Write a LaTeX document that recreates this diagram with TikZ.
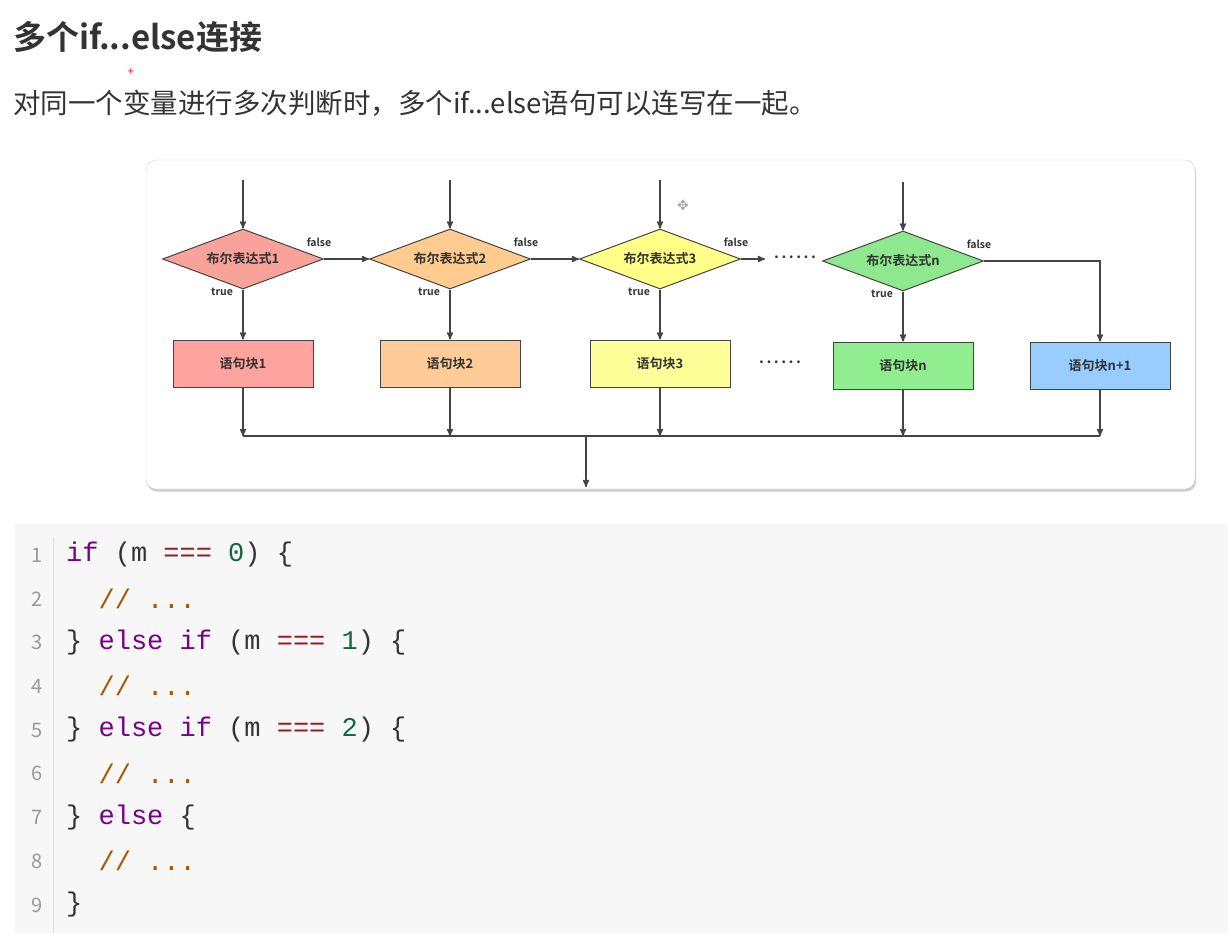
\documentclass[tikz,border=0pt]{standalone}
\usepackage{fontspec}
\setmainfont{Noto Sans CJK SC}[BoldFont={Noto Sans CJK SC Bold}]
\setmonofont{Liberation Mono}
\newfontfamily\symfont{DejaVu Sans}
\usetikzlibrary{positioning}
\usetikzlibrary{arrows}
\usetikzlibrary{shapes.geometric}
\usetikzlibrary{shadows}
\definecolor{linegray}{HTML}{444444}
\definecolor{labelgray}{HTML}{333333}
\definecolor{condA}{HTML}{F8A29A}
\definecolor{condB}{HTML}{FFCB8F}
\definecolor{condC}{HTML}{FFFF88}
\definecolor{condN}{HTML}{8EE88E}
\definecolor{blkA}{HTML}{FFA39E}
\definecolor{blkB}{HTML}{FFCC99}
\definecolor{blkC}{HTML}{FFFF99}
\definecolor{blkN}{HTML}{90EE90}
\definecolor{blkE}{HTML}{99CCFF}
\definecolor{codebg}{HTML}{F7F7F7}
\definecolor{kwcol}{HTML}{770088}
\definecolor{opcol}{HTML}{981A1A}
\definecolor{numcol}{HTML}{116644}
\definecolor{cmtcol}{HTML}{AA5500}
\newcommand{\kw}[1]{\textcolor{kwcol}{#1}}
\newcommand{\op}[1]{\textcolor{opcol}{#1}}
\newcommand{\nm}[1]{\textcolor{numcol}{#1}}
\newcommand{\cmt}[1]{\textcolor{cmtcol}{#1}}
\tikzset{>=stealth'}
\tikzset{cond/.style={draw=linegray, line width=1pt, diamond, aspect=2.7, minimum width=161pt, minimum height=60pt, inner sep=0pt, text=labelgray, font=\bfseries\fontsize{13}{13}\selectfont}}
\tikzset{blk/.style={draw=linegray, line width=1pt, rectangle, minimum width=140pt, minimum height=47pt, inner sep=0pt, text=labelgray, font=\bfseries\fontsize{13}{13}\selectfont}}
\tikzset{lbl/.style={text=labelgray, inner sep=0pt, font=\bfseries\fontsize{10.5}{10.5}\selectfont}}
\tikzset{flow/.style={draw=linegray, line width=1.5pt}}
\tikzset{lnum/.style={anchor=east, inner sep=0pt, text=gray!80, font=\fontsize{20}{20}\selectfont}}
\tikzset{codeline/.style={anchor=west, inner sep=0pt, text=labelgray, font=\ttfamily\fontsize{27}{27}\selectfont}}

\begin{document}
\begin{tikzpicture}[x=1pt, y=-1pt]
\useasboundingbox[fill=white] (0,0) rectangle (1228,933);

\node[anchor=west, inner sep=0pt, text=labelgray, font=\bfseries\fontsize{33}{33}\selectfont] (title) at (13,37) {多个if...else连接};
\node[inner sep=0pt, text=red, font=\fontsize{11}{11}\selectfont] (mark) at (131,72) {+};
\node[anchor=west, inner sep=0pt, text=labelgray, font=\fontsize{27.5}{27.5}\selectfont] (intro) at (13,103) {对同一个变量进行多次判断时，多个if...else语句可以连写在一起。};

\draw[draw=gray!35, fill=white, rounded corners=10pt, drop shadow={shadow xshift=1pt, shadow yshift=-2.5pt, opacity=0.4}] (146,160) rectangle (1195,489);

\node[cond, fill=condA] (d1) at (243,259) {布尔表达式1};
\node[cond, fill=condB] (d2) at (450,259) {布尔表达式2};
\node[cond, fill=condC] (d3) at (660,259) {布尔表达式3};
\node[cond, fill=condN] (dn) at (903,261) {布尔表达式n};

\node[blk, fill=blkA] (b1) at (243,363.5) {语句块1};
\node[blk, fill=blkB] (b2) at (450,363.5) {语句块2};
\node[blk, fill=blkC] (b3) at (660,363.5) {语句块3};
\node[blk, fill=blkN] (bn) at (903,365.5) {语句块n};
\node[blk, fill=blkE] (be) at (1100,365.5) {语句块n+1};

\node[lbl, font=\bfseries\fontsize{15}{15}\selectfont] (dots1) at (795,257) {.\,.\,.\,.\,.\,.};
\node[lbl, font=\bfseries\fontsize{15}{15}\selectfont] (dots2) at (780,362) {.\,.\,.\,.\,.\,.};
\node[text=gray!70, inner sep=0pt, font=\symfont\fontsize{14}{14}\selectfont] (move) at (683,205) {✥};

\foreach \d/\x/\y in {d1/243/180, d2/450/180, d3/660/180, dn/903/182}
  \draw[flow, ->] (\x,\y) coordinate (in\d) -- (\d.north);

\foreach \d/\b in {d1/b1, d2/b2, d3/b3, dn/bn}{
  \draw[flow, ->] (\d.south) -- (\b.north);
  \node[lbl] at ([xshift=-21pt, yshift=-2pt]\d.south) {true};
  \node[lbl] at ([xshift=-5pt, yshift=17pt]\d.east) {false};
}

\draw[flow, ->] (d1.east) -- (d2.west);
\draw[flow, ->] (d2.east) -- (d3.west);
\draw[flow, ->] (d3.east) -- ([xshift=-9pt]d3.east -| dots1.west);
\draw[flow, ->] (dn.east) -| (be.north);

\coordinate (m1) at (243,436);
\coordinate (m2) at (450,436);
\coordinate (m3) at (660,436);
\coordinate (mn) at (903,436);
\coordinate (me) at (1100,436);
\foreach \b/\m in {b1/m1, b2/m2, b3/m3, bn/mn, be/me}
  \draw[flow, ->] (\b.south) -- (\m);
\draw[flow] (m1) -- (me);
\coordinate (out) at (586,436);
\coordinate (exit) at (586,487);
\draw[flow, ->] (out) -- (exit);

\fill[codebg] (15,524) rectangle (1228,933);
\draw[draw=gray!25, line width=1pt] (53,537) -- (53,933);
\foreach \i in {1,...,9}
  \node[lnum] (n\i) at (43,{511.25+43.75*\i}) {\i};

\node[codeline] (c1) at (66,555) {\kw{if} (m \op{===} \nm{0}) \{};
\node[codeline] (c2) at (66,598.75) {~~\cmt{// ...}};
\node[codeline] (c3) at (66,642.5) {\} \kw{else} \kw{if} (m \op{===} \nm{1}) \{};
\node[codeline] (c4) at (66,686.25) {~~\cmt{// ...}};
\node[codeline] (c5) at (66,730) {\} \kw{else} \kw{if} (m \op{===} \nm{2}) \{};
\node[codeline] (c6) at (66,773.75) {~~\cmt{// ...}};
\node[codeline] (c7) at (66,817.5) {\} \kw{else} \{};
\node[codeline] (c8) at (66,861.25) {~~\cmt{// ...}};
\node[codeline] (c9) at (66,905) {\}};
\end{tikzpicture}
\end{document}
